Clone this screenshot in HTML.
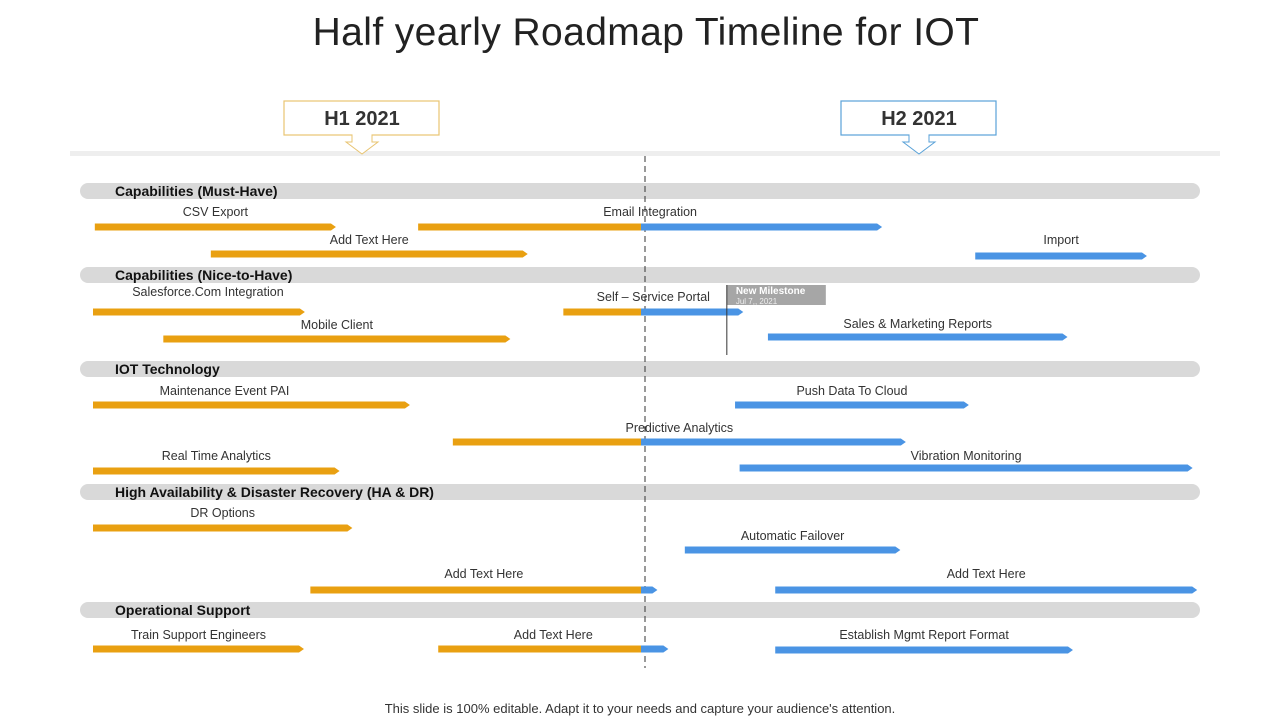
<!DOCTYPE html>
<html><head><meta charset="utf-8"><style>
body{margin:0;width:1280px;height:720px;background:#fff;font-family:"Liberation Sans",sans-serif;overflow:hidden;position:relative}
.t{position:absolute;white-space:nowrap}
</style></head><body>
<div class="t" style="left:0;width:1292px;text-align:center;top:11px;font-size:39px;color:#222;font-weight:300;letter-spacing:0.4px">Half yearly Roadmap Timeline for IOT</div>
<svg id="c" width="1280" height="720" style="position:absolute;left:0;top:0;font-family:'Liberation Sans',sans-serif"></svg>
<div class="t" style="left:0;width:1280px;text-align:center;top:701px;font-size:13px;color:#333">This slide is 100% editable. Adapt it to your needs and capture your audience's attention.</div>
<script>
const sections=["Capabilities (Must-Have)","Capabilities (Nice-to-Have)","IOT Technology","High Availability & Disaster Recovery (HA & DR)","Operational Support"];
const sectionY=[191,275,369,492,610];
const taskLabels=["CSV Export","Email Integration","Add Text Here","Import","Salesforce.Com Integration","Self – Service Portal","Mobile Client","Sales & Marketing Reports","Maintenance Event PAI","Push Data To Cloud","Predictive Analytics","Real Time Analytics","Vibration Monitoring","DR Options","Automatic Failover","Add Text Here","Add Text Here","Train Support Engineers","Add Text Here","Establish Mgmt Report Format"];
const taskStart=[0.02,3.56,1.29,9.66,0,5.15,0.77,7.39,0,7.03,3.94,0,7.08,0,6.48,2.38,7.47,0,3.78,7.47];
const taskEnd=[2.66,8.64,4.76,11.54,2.32,7.12,4.57,10.67,3.47,9.59,8.90,2.70,12.04,2.84,8.84,6.18,12.09,2.31,6.30,10.73];
const taskRowY=[227,227,254,256,312,312,339,337,405,405,442,471,468,528,550,590,590,649,649,650];
const labelRowY=[212,212,240,240,292,297,325,324,391,391,428,456,456,513,536,574,574,635,635,635];
const labelShift=[0,0,0,0,9,0,0,0,-27,0,0,0,0,0,0,0,0,0,0,0];
const milestoneMonth=6.94;
const x=m=>93+m*91.33;
const mid=x(6);
const svg=document.getElementById('c');const NS='http://www.w3.org/2000/svg';
function mk(tag,a,p){const e=document.createElementNS(NS,tag);for(const k in a)e.setAttribute(k,a[k]);(p||svg).appendChild(e);return e;}
let e=mk('rect',{x:70,y:151,width:1150,height:5,fill:'#eeeeee'});


[[284,'H1 2021','#e8c472'],[841,'H2 2021','#5aa2d8']].forEach((h,i)=>{
 const g=mk('g',{});
 
 
 const cx=h[0]+78;
 mk('path',{d:`M${cx-10} 135 V142 H${cx-16} L${cx} 154 L${cx+16} 142 H${cx+10} V135`,fill:'#fff',stroke:h[2],'stroke-width':1},g);
 mk('rect',{x:h[0],y:101,width:155,height:34,fill:'#fff',stroke:h[2],'stroke-width':1.2},g);
 mk('rect',{x:cx-9.5,y:133,width:19,height:4,fill:'#fff'},g);
 const t=mk('text',{x:cx,y:125,'text-anchor':'middle','font-size':20,'font-weight':'bold',fill:'#333'},g);t.textContent=h[1];
});
sections.forEach((s,i)=>{
 const g=mk('g',{});
 
 
 mk('rect',{x:80,y:sectionY[i]-8,width:1120,height:16,rx:8,fill:'#d9d9d9'},g);
 const t=mk('text',{x:115,y:sectionY[i]+5,'font-size':14,'font-weight':'bold',fill:'#111'},g);t.textContent=s;
});
e=mk('line',{x1:645,y1:156,x2:645,y2:668,stroke:'#333','stroke-dasharray':'6,4','stroke-width':1});


function seg(x1,x2,y,c,arrow){
 const h=3.5;let d=`M${x1} ${y-h} H${arrow?x2-5:x2} ${arrow?`L${x2} ${y}`:`V${y+h}`} ${arrow?`L${x2-5} ${y+h}`:''} H${x1} Z`;
 return mk('path',{d,fill:c});
}
taskLabels.forEach((l,i)=>{
 const x1=x(taskStart[i]),x2=x(taskEnd[i]),y=taskRowY[i];
 const g=mk('g',{});
 
 
 const O='#e9a011',B='#4a94e4';
 if(x2<=mid){g.appendChild(seg(x1,x2,y,O,true));}
 else if(x1>=mid){g.appendChild(seg(x1,x2,y,B,true));}
 else{g.appendChild(seg(mid,x2,y,B,true));g.appendChild(seg(x1,mid,y,O,false));}
 const t=mk('text',{x:(x1+x2)/2+labelShift[i],y:labelRowY[i]+4,'text-anchor':'middle','font-size':12.5,fill:'#333'},g);t.textContent=l;
});
const mx=x(milestoneMonth);
const mg=mk('g',{});


mk('rect',{x:mx,y:285,width:99,height:20,fill:'#a6a6a6'},mg);
mk('line',{x1:mx,y1:285,x2:mx,y2:355,stroke:'#333','stroke-width':1},mg);
let t=mk('text',{x:mx+9,y:294,'font-size':10,'font-weight':'bold',fill:'#fff'},mg);t.textContent='New Milestone';
t=mk('text',{x:mx+9,y:304,'font-size':8,fill:'#eee'},mg);t.textContent='Jul 7,, 2021';
</script>
</body></html>
